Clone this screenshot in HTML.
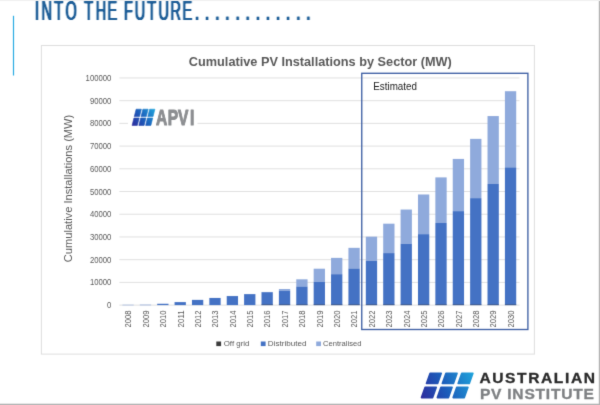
<!DOCTYPE html>
<html lang="en"><head><meta charset="utf-8"><title>Into the future</title>
<style>html,body{margin:0;padding:0;background:#fff;}body{width:600px;height:405px;overflow:hidden;}svg{display:block;}text{font-family:"Liberation Sans",sans-serif;}</style></head><body>
<svg width="600" height="405" viewBox="0 0 600 405">
<defs><linearGradient id="pg" x1="0" y1="1" x2="1" y2="0"><stop offset="0" stop-color="#2b2a96"/><stop offset="0.5" stop-color="#1f63b8"/><stop offset="1" stop-color="#27aae1"/></linearGradient></defs>
<filter id="soft" filterUnits="userSpaceOnUse" x="0" y="0" width="600" height="405" color-interpolation-filters="sRGB"><feConvolveMatrix order="3" kernelMatrix="0.0113 0.0837 0.0113 0.0837 0.62 0.0837 0.0113 0.0837 0.0113" divisor="1" edgeMode="duplicate" preserveAlpha="false"/></filter>
<g filter="url(#soft)">
<rect width="600" height="405" fill="#fff"/>
<rect x="598.8" y="0" width="1.2" height="405" fill="#b4b4b4"/>
<rect x="0" y="403.7" width="600" height="1.3" fill="#b4b4b4"/>
<rect x="0" y="0" width="600" height="1" fill="#f0f0f0"/>
<rect x="12.9" y="15.8" width="1.2" height="59.7" fill="#2aabe2"/>
<filter id="hx" color-interpolation-filters="sRGB" x="-2%" y="-10%" width="104%" height="120%"><feConvolveMatrix in="SourceAlpha" order="3 1" kernelMatrix="0.42 1 0.42" divisor="1" edgeMode="none" preserveAlpha="false" result="a"/><feFlood flood-color="#1f5f98"/><feComposite operator="in" in2="a"/></filter>
<text id="hd" transform="translate(0,20.4) scale(0.54,1)" font-size="26.8" fill="#1f5f98" filter="url(#hx)" x="64.70 76.79 100.34 121.25 144.44 156.09 177.35 199.06 222.22 229.86 249.58 272.84 293.57 315.77 337.76">INTO THE FUTURE<tspan font-size="32" x="360.55 379.29 398.03 416.77 435.51 454.26 473.00 491.74 510.48 529.22 547.96 566.70">............</tspan></text>
<rect x="41.4" y="45.5" width="493" height="308.6" fill="#fff" stroke="#dedede" stroke-width="1"/>
<line x1="119.37" x2="519.5" y1="305.10" y2="305.10" stroke="#e0e0e0" stroke-width="1"/>
<text x="107.10" y="308.10" font-size="8.3" fill="#595959" textLength="4.30" lengthAdjust="spacingAndGlyphs">0</text>
<line x1="119.37" x2="519.5" y1="282.38" y2="282.38" stroke="#e0e0e0" stroke-width="1"/>
<text x="89.90" y="285.38" font-size="8.3" fill="#595959" textLength="21.50" lengthAdjust="spacingAndGlyphs">10000</text>
<line x1="119.37" x2="519.5" y1="259.67" y2="259.67" stroke="#e0e0e0" stroke-width="1"/>
<text x="89.90" y="262.67" font-size="8.3" fill="#595959" textLength="21.50" lengthAdjust="spacingAndGlyphs">20000</text>
<line x1="119.37" x2="519.5" y1="236.95" y2="236.95" stroke="#e0e0e0" stroke-width="1"/>
<text x="89.90" y="239.95" font-size="8.3" fill="#595959" textLength="21.50" lengthAdjust="spacingAndGlyphs">30000</text>
<line x1="119.37" x2="519.5" y1="214.24" y2="214.24" stroke="#e0e0e0" stroke-width="1"/>
<text x="89.90" y="217.24" font-size="8.3" fill="#595959" textLength="21.50" lengthAdjust="spacingAndGlyphs">40000</text>
<line x1="119.37" x2="519.5" y1="191.52" y2="191.52" stroke="#e0e0e0" stroke-width="1"/>
<text x="89.90" y="194.52" font-size="8.3" fill="#595959" textLength="21.50" lengthAdjust="spacingAndGlyphs">50000</text>
<line x1="119.37" x2="519.5" y1="168.80" y2="168.80" stroke="#e0e0e0" stroke-width="1"/>
<text x="89.90" y="171.80" font-size="8.3" fill="#595959" textLength="21.50" lengthAdjust="spacingAndGlyphs">60000</text>
<line x1="119.37" x2="519.5" y1="146.09" y2="146.09" stroke="#e0e0e0" stroke-width="1"/>
<text x="89.90" y="149.09" font-size="8.3" fill="#595959" textLength="21.50" lengthAdjust="spacingAndGlyphs">70000</text>
<line x1="119.37" x2="519.5" y1="123.37" y2="123.37" stroke="#e0e0e0" stroke-width="1"/>
<text x="89.90" y="126.37" font-size="8.3" fill="#595959" textLength="21.50" lengthAdjust="spacingAndGlyphs">80000</text>
<line x1="119.37" x2="519.5" y1="100.66" y2="100.66" stroke="#e0e0e0" stroke-width="1"/>
<text x="89.90" y="103.66" font-size="8.3" fill="#595959" textLength="21.50" lengthAdjust="spacingAndGlyphs">90000</text>
<line x1="119.37" x2="519.5" y1="77.94" y2="77.94" stroke="#e0e0e0" stroke-width="1"/>
<text x="85.60" y="80.94" font-size="8.3" fill="#595959" textLength="25.80" lengthAdjust="spacingAndGlyphs">100000</text>
<rect x="122.41" y="304.73" width="11.3" height="0.57" fill="#8faadc"/>
<text transform="translate(131.36,327.4) rotate(-90)" font-size="8.6" fill="#595959" textLength="17" lengthAdjust="spacingAndGlyphs">2008</text>
<rect x="139.80" y="304.62" width="11.3" height="0.68" fill="#8faadc"/>
<text transform="translate(148.75,327.4) rotate(-90)" font-size="8.6" fill="#595959" textLength="17" lengthAdjust="spacingAndGlyphs">2009</text>
<rect x="157.19" y="303.70" width="11.3" height="0.11" fill="#8faadc"/>
<rect x="157.19" y="303.82" width="11.3" height="1.28" fill="#4472c4"/>
<text transform="translate(166.14,327.4) rotate(-90)" font-size="8.6" fill="#595959" textLength="17" lengthAdjust="spacingAndGlyphs">2010</text>
<rect x="174.57" y="301.99" width="11.3" height="0.11" fill="#8faadc"/>
<rect x="174.57" y="302.11" width="11.3" height="2.99" fill="#4472c4"/>
<text transform="translate(183.52,327.4) rotate(-90)" font-size="8.6" fill="#595959" textLength="17" lengthAdjust="spacingAndGlyphs">2011</text>
<rect x="191.96" y="299.83" width="11.3" height="0.11" fill="#8faadc"/>
<rect x="191.96" y="299.94" width="11.3" height="5.16" fill="#4472c4"/>
<text transform="translate(200.91,327.4) rotate(-90)" font-size="8.6" fill="#595959" textLength="17" lengthAdjust="spacingAndGlyphs">2012</text>
<rect x="209.34" y="297.89" width="11.3" height="0.11" fill="#8faadc"/>
<rect x="209.34" y="298.00" width="11.3" height="7.10" fill="#4472c4"/>
<text transform="translate(218.29,327.4) rotate(-90)" font-size="8.6" fill="#595959" textLength="17" lengthAdjust="spacingAndGlyphs">2013</text>
<rect x="226.73" y="295.95" width="11.3" height="0.11" fill="#8faadc"/>
<rect x="226.73" y="296.07" width="11.3" height="9.03" fill="#4472c4"/>
<text transform="translate(235.68,327.4) rotate(-90)" font-size="8.6" fill="#595959" textLength="17" lengthAdjust="spacingAndGlyphs">2014</text>
<rect x="244.11" y="294.01" width="11.3" height="0.11" fill="#8faadc"/>
<rect x="244.11" y="294.13" width="11.3" height="10.97" fill="#4472c4"/>
<text transform="translate(253.06,327.4) rotate(-90)" font-size="8.6" fill="#595959" textLength="17" lengthAdjust="spacingAndGlyphs">2015</text>
<rect x="261.50" y="291.96" width="11.3" height="0.23" fill="#8faadc"/>
<rect x="261.50" y="292.19" width="11.3" height="12.91" fill="#4472c4"/>
<rect x="261.50" y="304.50" width="11.3" height="0.6" fill="#3a4a6b"/>
<text transform="translate(270.45,327.4) rotate(-90)" font-size="8.6" fill="#595959" textLength="17" lengthAdjust="spacingAndGlyphs">2016</text>
<rect x="278.89" y="289.00" width="11.3" height="1.71" fill="#8faadc"/>
<rect x="278.89" y="290.71" width="11.3" height="14.39" fill="#4472c4"/>
<rect x="278.89" y="304.50" width="11.3" height="0.6" fill="#3a4a6b"/>
<text transform="translate(287.84,327.4) rotate(-90)" font-size="8.6" fill="#595959" textLength="17" lengthAdjust="spacingAndGlyphs">2017</text>
<rect x="296.27" y="279.31" width="11.3" height="7.18" fill="#8faadc"/>
<rect x="296.27" y="286.49" width="11.3" height="18.61" fill="#4472c4"/>
<rect x="296.27" y="304.50" width="11.3" height="0.6" fill="#3a4a6b"/>
<text transform="translate(305.22,327.4) rotate(-90)" font-size="8.6" fill="#595959" textLength="17" lengthAdjust="spacingAndGlyphs">2018</text>
<rect x="313.66" y="268.71" width="11.3" height="13.11" fill="#8faadc"/>
<rect x="313.66" y="281.82" width="11.3" height="23.28" fill="#4472c4"/>
<rect x="313.66" y="304.50" width="11.3" height="0.6" fill="#3a4a6b"/>
<text transform="translate(322.61,327.4) rotate(-90)" font-size="8.6" fill="#595959" textLength="17" lengthAdjust="spacingAndGlyphs">2019</text>
<rect x="331.05" y="257.88" width="11.3" height="16.30" fill="#8faadc"/>
<rect x="331.05" y="274.18" width="11.3" height="30.92" fill="#4472c4"/>
<rect x="331.05" y="304.50" width="11.3" height="0.6" fill="#3a4a6b"/>
<text transform="translate(340.00,327.4) rotate(-90)" font-size="8.6" fill="#595959" textLength="17" lengthAdjust="spacingAndGlyphs">2020</text>
<rect x="348.43" y="247.84" width="11.3" height="20.63" fill="#8faadc"/>
<rect x="348.43" y="268.48" width="11.3" height="36.62" fill="#4472c4"/>
<rect x="348.43" y="304.50" width="11.3" height="0.6" fill="#3a4a6b"/>
<text transform="translate(357.38,327.4) rotate(-90)" font-size="8.6" fill="#595959" textLength="17" lengthAdjust="spacingAndGlyphs">2021</text>
<rect x="365.82" y="236.67" width="11.3" height="24.17" fill="#8faadc"/>
<rect x="365.82" y="260.84" width="11.3" height="44.26" fill="#4472c4"/>
<rect x="365.82" y="304.50" width="11.3" height="0.6" fill="#3a4a6b"/>
<text transform="translate(374.77,327.4) rotate(-90)" font-size="8.6" fill="#595959" textLength="17" lengthAdjust="spacingAndGlyphs">2022</text>
<rect x="383.20" y="223.68" width="11.3" height="29.41" fill="#8faadc"/>
<rect x="383.20" y="253.09" width="11.3" height="52.01" fill="#4472c4"/>
<rect x="383.20" y="304.50" width="11.3" height="0.6" fill="#3a4a6b"/>
<text transform="translate(392.15,327.4) rotate(-90)" font-size="8.6" fill="#595959" textLength="17" lengthAdjust="spacingAndGlyphs">2023</text>
<rect x="400.59" y="209.54" width="11.3" height="34.20" fill="#8faadc"/>
<rect x="400.59" y="243.74" width="11.3" height="61.36" fill="#4472c4"/>
<rect x="400.59" y="304.50" width="11.3" height="0.6" fill="#3a4a6b"/>
<text transform="translate(409.54,327.4) rotate(-90)" font-size="8.6" fill="#595959" textLength="17" lengthAdjust="spacingAndGlyphs">2024</text>
<rect x="417.98" y="194.49" width="11.3" height="39.67" fill="#8faadc"/>
<rect x="417.98" y="234.16" width="11.3" height="70.94" fill="#4472c4"/>
<rect x="417.98" y="304.50" width="11.3" height="0.6" fill="#3a4a6b"/>
<text transform="translate(426.93,327.4) rotate(-90)" font-size="8.6" fill="#595959" textLength="17" lengthAdjust="spacingAndGlyphs">2025</text>
<rect x="435.36" y="177.39" width="11.3" height="45.60" fill="#8faadc"/>
<rect x="435.36" y="222.99" width="11.3" height="82.11" fill="#4472c4"/>
<rect x="435.36" y="304.50" width="11.3" height="0.6" fill="#3a4a6b"/>
<text transform="translate(444.31,327.4) rotate(-90)" font-size="8.6" fill="#595959" textLength="17" lengthAdjust="spacingAndGlyphs">2026</text>
<rect x="452.75" y="158.92" width="11.3" height="52.21" fill="#8faadc"/>
<rect x="452.75" y="211.14" width="11.3" height="93.96" fill="#4472c4"/>
<rect x="452.75" y="304.50" width="11.3" height="0.6" fill="#3a4a6b"/>
<text transform="translate(461.70,327.4) rotate(-90)" font-size="8.6" fill="#595959" textLength="17" lengthAdjust="spacingAndGlyphs">2027</text>
<rect x="470.13" y="138.86" width="11.3" height="59.28" fill="#8faadc"/>
<rect x="470.13" y="198.14" width="11.3" height="106.96" fill="#4472c4"/>
<rect x="470.13" y="304.50" width="11.3" height="0.6" fill="#3a4a6b"/>
<text transform="translate(479.08,327.4) rotate(-90)" font-size="8.6" fill="#595959" textLength="17" lengthAdjust="spacingAndGlyphs">2028</text>
<rect x="487.52" y="116.06" width="11.3" height="67.94" fill="#8faadc"/>
<rect x="487.52" y="184.00" width="11.3" height="121.10" fill="#4472c4"/>
<rect x="487.52" y="304.50" width="11.3" height="0.6" fill="#3a4a6b"/>
<text transform="translate(496.47,327.4) rotate(-90)" font-size="8.6" fill="#595959" textLength="17" lengthAdjust="spacingAndGlyphs">2029</text>
<rect x="504.91" y="91.21" width="11.3" height="76.15" fill="#8faadc"/>
<rect x="504.91" y="167.36" width="11.3" height="137.74" fill="#4472c4"/>
<rect x="504.91" y="304.50" width="11.3" height="0.6" fill="#3a4a6b"/>
<text transform="translate(513.86,327.4) rotate(-90)" font-size="8.6" fill="#595959" textLength="17" lengthAdjust="spacingAndGlyphs">2030</text>
<text x="188.8" y="66.2" font-size="13" font-weight="bold" fill="#595959" textLength="263" lengthAdjust="spacingAndGlyphs">Cumulative PV Installations by Sector (MW)</text>
<text transform="translate(72.4,262.2) rotate(-90)" font-size="10.6" fill="#595959" textLength="147.5" lengthAdjust="spacingAndGlyphs">Cumulative Installations (MW)</text>
<rect x="361.75" y="73.3" width="166.15" height="256.2" fill="none" stroke="#3f60a4" stroke-width="1.35"/>
<text x="373.3" y="89.8" font-size="10.5" fill="#1a1a1a" textLength="43.7" lengthAdjust="spacingAndGlyphs">Estimated</text>
<rect x="216.3" y="341.5" width="4.8" height="4.6" fill="#3b3b3b"/>
<text x="223.7" y="346.1" font-size="8.1" fill="#595959" textLength="25.8" lengthAdjust="spacingAndGlyphs">Off grid</text>
<rect x="260.8" y="341.5" width="4.8" height="4.6" fill="#4472c4"/>
<text x="267.8" y="346.1" font-size="8.1" fill="#595959" textLength="38.7" lengthAdjust="spacingAndGlyphs">Distributed</text>
<rect x="316.2" y="341.5" width="4.8" height="4.6" fill="#8faadc"/>
<text x="323" y="346.1" font-size="8.1" fill="#595959" textLength="38.4" lengthAdjust="spacingAndGlyphs">Centralised</text>
<rect x="128" y="102.2" width="69.5" height="27" fill="#fff"/>
<linearGradient id="g1" gradientUnits="userSpaceOnUse" x1="131.70" y1="125.70" x2="155.30" y2="108.90"><stop offset="0" stop-color="#2e2a9c"/><stop offset="0.45" stop-color="#1c5cba"/><stop offset="1" stop-color="#1fa5dc"/></linearGradient><g fill="url(#g1)" stroke="url(#g1)" stroke-width="0.6" stroke-linejoin="round"><polygon points="136.12,109.20 141.39,109.20 139.54,116.60 134.28,116.60"/><polygon points="142.89,109.20 148.16,109.20 146.31,116.60 141.04,116.60"/><polygon points="149.66,109.20 154.92,109.20 153.07,116.60 147.81,116.60"/><polygon points="133.93,118.00 139.19,118.00 137.34,125.40 132.07,125.40"/><polygon points="140.69,118.00 145.96,118.00 144.11,125.40 138.84,125.40"/><polygon points="147.46,118.00 152.72,118.00 150.87,125.40 145.61,125.40"/></g>
<text transform="translate(0,124.95) scale(0.7,1)" font-size="22.2" font-weight="bold" fill="#8c8e91" stroke="#8c8e91" stroke-width="1.1" stroke-linejoin="round" x="222.71 239.73 254.38 271.34">APVI</text>
<linearGradient id="g2" gradientUnits="userSpaceOnUse" x1="420.40" y1="398.40" x2="474.00" y2="372.40"><stop offset="0" stop-color="#2e2a9c"/><stop offset="0.45" stop-color="#1c5cba"/><stop offset="1" stop-color="#1fa5dc"/></linearGradient><g fill="url(#g2)" stroke="url(#g2)" stroke-width="1.6" stroke-linejoin="round"><polygon points="430.12,373.20 441.25,373.20 437.61,383.50 426.47,383.50"/><polygon points="445.95,373.20 457.08,373.20 453.44,383.50 442.31,383.50"/><polygon points="461.78,373.20 472.92,373.20 469.27,383.50 458.14,383.50"/><polygon points="425.13,387.30 436.26,387.30 432.62,397.60 421.48,397.60"/><polygon points="440.96,387.30 452.09,387.30 448.45,397.60 437.32,397.60"/><polygon points="456.79,387.30 467.93,387.30 464.28,397.60 453.15,397.60"/></g>
<text transform="translate(479.4,382.8) scale(1.13,1)" font-size="13.8" font-weight="bold" fill="#2a2a2a" stroke="#2a2a2a" stroke-width="0.3" textLength="102.30" lengthAdjust="spacing">AUSTRALIAN</text>
<text transform="translate(479.9,398.5) scale(1.13,1)" font-size="13.8" font-weight="bold" fill="#7e8083" stroke="#7e8083" stroke-width="0.3" textLength="100.88" lengthAdjust="spacing">PV INSTITUTE</text>
</g></svg></body></html>
